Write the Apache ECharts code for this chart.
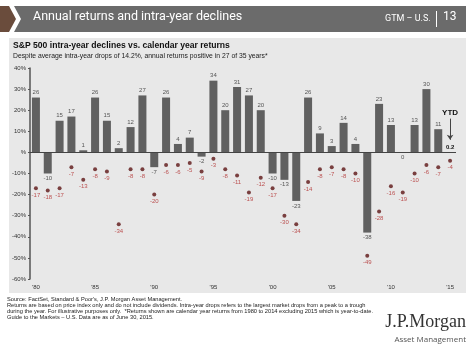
<!DOCTYPE html>
<html>
<head>
<meta charset="utf-8">
<script src="https://cdn.jsdelivr.net/npm/echarts@6/dist/echarts.min.js"></script>
<style>
  html, body { margin: 0; padding: 0; background: #fff; }
  #main { width: 474px; height: 352px; }
</style>
</head>
<body>
<div id="main"></div>
<script>
var years = [];
for (var y = 1980; y <= 2015; y++) years.push(String(y));

// calendar year returns (%)
var returns = [26, -10, 15, 17, 1, 26, 15, 2, 12, 27, -7, 26, 4, 7, -2, 34, 20, 31, 27, 20,
               -10, -13, -23, 26, 9, 3, 14, 4, -38, 23, 13, 0, 13, 30, 11, 0.2];
// intra-year declines (%)
var declines = [-17, -18, -17, -7, -13, -8, -9, -34, -8, -8, -20, -6, -6, -5, -9, -3, -8, -11, -19, -12,
                -17, -30, -34, -14, -8, -7, -8, -10, -49, -28, -16, -19, -10, -6, -7, -4];

var font = 'Liberation Sans';

var barData = returns.map(function (v, i) {
    var item = { value: v, label: { position: v > 0 ? 'top' : 'bottom' } };
    if (i === returns.length - 1) {
        item.label = { position: 'top', color: '#111', fontWeight: 'bold', formatter: '0.2' };
    }
    return item;
});

var chart = echarts.init(document.getElementById('main'));
var option = {
    backgroundColor: '#fff',
    animation: false,
    graphic: [
        // header
        { type: 'polygon', shape: { points: [[0, 6], [9, 6], [16, 19], [9, 32], [0, 32]] }, style: { fill: '#6a4c3c' } },
        { type: 'polygon', shape: { points: [[14, 6], [466, 6], [466, 32], [14, 32], [21, 19]] }, style: { fill: '#6b6b6b' } },
        { type: 'text', left: 33, top: 10, style: { text: 'Annual returns and intra-year declines', fill: '#fff', font: '12.5px Roboto' } },
        { type: 'text', left: 385, top: 14, style: { text: 'GTM – U.S.', fill: '#fff', font: '9px Roboto' } },
        { type: 'rect', shape: { x: 436, y: 11, width: 1, height: 16 }, style: { fill: '#fff' } },
        { type: 'text', left: 443, top: 11, style: { text: '13', fill: '#fff', font: '12px Roboto' } },
        // panel
        { type: 'rect', z: -10, shape: { x: 9, y: 38, width: 457, height: 255 }, style: { fill: '#e8e8e8' } },
        { type: 'text', left: 13, top: 41, style: { text: 'S&P 500 intra-year declines vs. calendar year returns', fill: '#111', font: 'bold 8.6px "Liberation Sans"' } },
        { type: 'text', left: 13, top: 53, style: { text: 'Despite average intra-year drops of 14.2%, annual returns positive in 27 of 35 years*', fill: '#222', font: '6.8px "Liberation Sans"' } },
        // footer
        { type: 'text', left: 7, top: 296, style: {
            text: 'Source: FactSet, Standard & Poor\'s, J.P. Morgan Asset Management.\n' +
                  'Returns are based on price index only and do not include dividends. Intra-year drops refers to the largest market drops from a peak to a trough\n' +
                  'during the year. For illustrative purposes only.  *Returns shown are calendar year returns from 1980 to 2014 excluding 2015 which is year-to-date.\n' +
                  'Guide to the Markets – U.S. Data are as of June 30, 2015.',
            fill: '#222', font: '5.7px "Liberation Sans"', lineHeight: 6 } },
        { type: 'text', right: 8, top: 313, style: { text: 'J.P.Morgan', fill: '#333', font: '18px "Liberation Serif"' } },
        { type: 'text', right: 8, top: 336, style: { text: 'Asset Management', fill: '#555', font: '8px "Open Sans"' } }
    ],
    grid: { left: 30, right: 18, top: 68, bottom: 73 },
    xAxis: {
        type: 'category',
        data: years,
        axisLine: { show: false },
        axisTick: { show: false },
        axisLabel: {
            interval: 4,
            margin: 5,
            fontSize: 6,
            fontFamily: font,
            color: '#333',
            formatter: function (v) { return '\'' + v.slice(2); }
        }
    },
    yAxis: {
        type: 'value',
        min: -60,
        max: 40,
        interval: 10,
        splitLine: { show: false },
        axisLine: { show: true, lineStyle: { color: '#555', width: 1.5 } },
        axisTick: { show: true, length: 2, lineStyle: { color: '#555' } },
        axisLabel: {
            fontSize: 6,
            fontFamily: font,
            color: '#333',
            margin: 4,
            formatter: function (v) { return v === 0 ? '%' : v + '%'; }
        }
    },
    series: [
        {
            type: 'bar',
            data: barData,
            barWidth: 8,
            itemStyle: { color: '#606060' },
            label: { show: true, distance: 2, fontSize: 6, fontFamily: font, color: '#555' },
            markLine: {
                silent: true,
                symbol: 'none',
                lineStyle: { color: '#444', width: 1, type: 'solid' },
                label: { show: false },
                data: [
                    { yAxis: 0 },
                    [
                        { coord: ['2015', 16], symbol: 'none', label: { show: true, position: 'start', formatter: 'YTD', color: '#111', fontWeight: 'bold', fontSize: 8, fontFamily: font, distance: 2 } },
                        { coord: ['2015', 6], symbol: 'arrow', symbolSize: 5 }
                    ]
                ]
            }
        },
        {
            type: 'scatter',
            data: declines,
            symbolSize: 4,
            itemStyle: { color: '#5c1414' },
            label: { show: true, position: 'bottom', distance: 2, fontSize: 6, fontFamily: font, color: '#b02a2a' }
        }
    ]
};
chart.setOption(option);
</script>
</body>
</html>
